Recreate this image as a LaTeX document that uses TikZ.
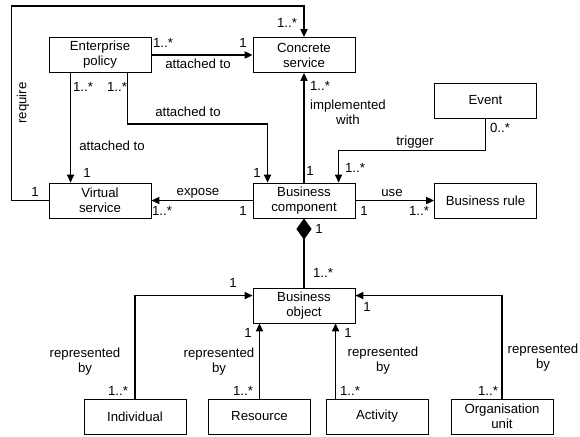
\documentclass[tikz,border=0pt]{standalone}
\usepackage{fontspec}
\setmainfont{Liberation Sans}
\usetikzlibrary{arrows.meta,calc}

\tikzset{
  cls/.style={draw, line width=0.6pt, minimum width=2.55cm, minimum height=0.875cm,
    align=center, inner sep=1pt},
  assoc/.style={line width=0.9pt, -{Triangle[length=2mm,width=1.8mm]}},
  comp/.style={line width=0.9pt, {Diamond[length=5.3mm,width=3.8mm]}-},
  lbl/.style={inner sep=0pt, align=center}
}

\begin{document}
\begin{tikzpicture}[x=0.025cm, y=-0.025cm, font=\fontsize{9.4}{10.7}\selectfont]
    \useasboundingbox (0,0) rectangle (580,436);

    % Draw the classes
    \node[cls] (policy) at (100,55) {Enterprise\\policy};
    \node[cls] (concrete) at (304,55) {Concrete\\service};
    \node[cls] (virtual) at (100,200.5) {Virtual\\service};
    \node[cls] (component) at (304,200.5) {Business\\component};
    \node[cls] (event) at (485.5,100.5) {Event};
    \node[cls] (rule) at (485.5,200.5) {Business rule};
    \node[cls] (object) at (304,305.5) {Business\\object};
    \node[cls] (individual) at (135,416.5) {Individual};
    \node[cls] (resource) at (259.5,416.5) {Resource};
    \node[cls] (activity) at (377,416.5) {Activity};
    \node[cls] (orgunit) at (502,416.5) {Organisation\\unit};

    % Draw the associations
    \draw[assoc] (virtual.west) -- ++(-37,0) |- ($(concrete.north)+(0,-31)$) -- (concrete.north);
    \draw[assoc] (policy) -- (concrete);
    \draw[assoc] ($(policy.south west)+(22,0)$) -- ($(virtual.north west)+(22,0)$);
    \draw[assoc] ($(policy.south west)+(79,0)$) -- ++(0,51) -| ($(component.north west)+(15,0)$);
    \draw[assoc] (component) -- (virtual);
    \draw[assoc] (component) -- (concrete);
    \draw[assoc] (event.south) -- ++(0,32) -| ($(component.north west)+(86,0)$);
    \draw[assoc] (component) -- (rule);
    \draw[comp] (component.south) -- (object.north);
    \draw[assoc] (individual.north) |- ($(object.north west)+(0,8)$);
    \draw[assoc] (resource.north) -- (resource.north |- object.south);
    \draw[assoc] ($(activity.north west)+(10,0)$) -- ($(object.south west)+(83,0)$);
    \draw[assoc] (orgunit.north) |- ($(object.north east)+(0,8)$);

    % Add labels of the associations
    \node[lbl, rotate=90] (lreq) at (23,103) {require};
    \node[lbl] (mreqa) at (35,192) {1};
    \node[lbl] (mreqb) at (287,23) {1..*};
    \node[lbl] (mpca) at (163,43) {1..*};
    \node[lbl] (mpcb) at (243,43) {1};
    \node[lbl] (lpc) at (198,64) {attached to};
    \node[lbl] (mpva) at (83,87) {1..*};
    \node[lbl] (lpv) at (112,146) {attached to};
    \node[lbl] (mpvb) at (87,173) {1};
    \node[lbl] (mpba) at (117,87) {1..*};
    \node[lbl] (lpb) at (188,112) {attached to};
    \node[lbl] (mpbb) at (257,173) {1};
    \node[lbl] (lexp) at (198,193) {expose};
    \node[lbl] (mexpa) at (162,211) {1..*};
    \node[lbl] (mexpb) at (243,211) {1};
    \node[lbl] (mimpa) at (320,86) {1..*};
    \node[lbl] (limp) at (348,112) {implemented\\with};
    \node[lbl] (mimpb) at (310,171) {1};
    \node[lbl] (mtria) at (500,128) {0..*};
    \node[lbl] (ltri) at (415,142) {trigger};
    \node[lbl] (mtrib) at (355,168) {1..*};
    \node[lbl] (luse) at (392,193) {use};
    \node[lbl] (musea) at (364,211) {1};
    \node[lbl] (museb) at (419,211) {1..*};
    \node[lbl] (mcompa) at (319,229) {1};
    \node[lbl] (mcompb) at (323,273) {1..*};
    \node[lbl] (mindb) at (233,283) {1};
    \node[lbl] (lind) at (85,362) {represented\\by};
    \node[lbl] (minda) at (118,391) {1..*};
    \node[lbl] (mresb) at (248,333) {1};
    \node[lbl] (lres) at (219,362) {represented\\by};
    \node[lbl] (mresa) at (243,391) {1..*};
    \node[lbl] (mactb) at (348,333) {1};
    \node[lbl] (lact) at (383,361) {represented\\by};
    \node[lbl] (macta) at (350,391) {1..*};
    \node[lbl] (morgb) at (367,307) {1};
    \node[lbl] (lorg) at (543,358) {represented\\by};
    \node[lbl] (morga) at (488,391) {1..*};
\end{tikzpicture}
\end{document}
